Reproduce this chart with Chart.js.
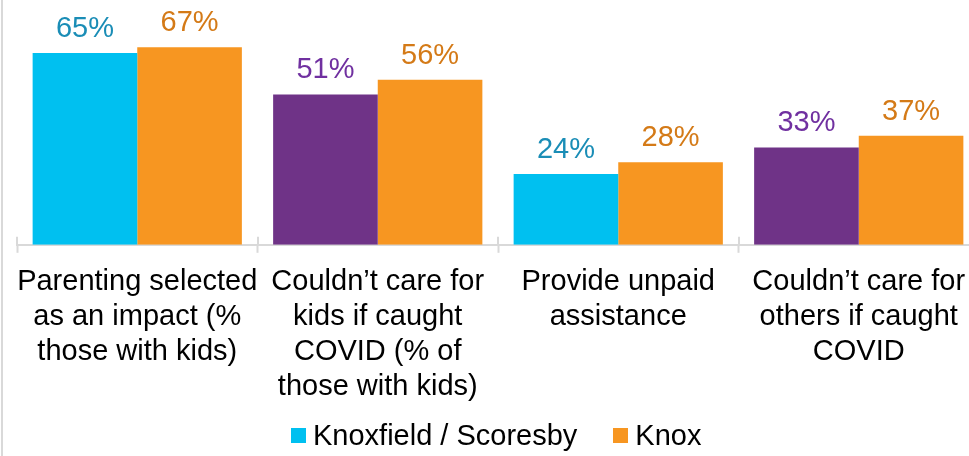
<!DOCTYPE html>
<html>
<head>
<meta charset="utf-8">
<script src="https://cdn.jsdelivr.net/npm/chart.js@4.4.1/dist/chart.umd.min.js"></script>
<style>
    html, body { margin: 0; padding: 0; background: #fff; overflow: hidden; width: 969px; height: 456px; }
    #wrap {
        position: absolute;
        left: 1px; top: 0;
        width: 976px; height: 456px;
        border-left: 2px solid #d9d9d9;
    }
    #legend {
        position: absolute;
        left: 291px; top: 419px;
        display: flex; align-items: center;
        font: 29px Arial, "Liberation Sans", sans-serif;
        color: #000;
        white-space: nowrap;
    }
    #legend .item { display: flex; align-items: center; margin-right: 36px; }
    #legend .box { width: 15px; height: 15px; margin-right: 7px; }
</style>
</head>
<body>
<div id="wrap"><canvas id="chart"></canvas></div>
<div id="legend"></div>
<script>
// chart data
const categories = [
    ["Parenting selected", "as an impact (%", "those with kids)"],
    ["Couldn\u2019t care for", "kids if caught", "COVID (% of", "those with kids)"],
    ["Provide unpaid", "assistance"],
    ["Couldn\u2019t care for", "others if caught", "COVID"],
];
const seriesNames = ["Knoxfield / Scoresby", "Knox"];
const areaValues = [65, 51, 24, 33];
const knoxValues = [67, 56, 28, 37];

const CYAN = '#00c0f0';
const PURPLE = '#6f3387';
const ORANGE = '#f79621';
const areaColors = [CYAN, PURPLE, CYAN, PURPLE];
const areaLabelColors = ['#1a8db6', '#7030a0', '#1a8db6', '#7030a0'];
const knoxLabelColor = '#d47a17';
const legendColors = [CYAN, ORANGE];
const FONT = 'Arial, "Liberation Sans", sans-serif';

// value labels above each bar
const valueLabels = {
    id: 'valueLabels',
    afterDatasetsDraw(chart) {
        const ctx = chart.ctx;
        ctx.save();
        ctx.font = '29px ' + FONT;
        ctx.textAlign = 'center';
        ctx.textBaseline = 'alphabetic';
        chart.data.datasets.forEach((ds, di) => {
            chart.getDatasetMeta(di).data.forEach((bar, i) => {
                ctx.fillStyle = di === 0 ? areaLabelColors[i] : knoxLabelColor;
                ctx.fillText(ds.data[i] + '%', bar.x, bar.y - 16);
            });
        });
        ctx.restore();
    }
};

// small tick marks poking above the axis line too
const upperTicks = {
    id: 'upperTicks',
    afterDraw(chart) {
        const x = chart.scales.x;
        const ctx = chart.ctx;
        ctx.save();
        ctx.strokeStyle = '#d9d9d9';
        ctx.lineWidth = 2;
        ctx.beginPath();
        for (let i = 0; i <= categories.length; i++) {
            const px = Math.round(x.getPixelForValue(i - 0.5));
            ctx.moveTo(px, x.top - 8);
            ctx.lineTo(px, x.top);
        }
        ctx.stroke();
        ctx.restore();
    }
};

new Chart(document.getElementById('chart'), {
    type: 'bar',
    data: {
        labels: categories,
        datasets: [
            {
                label: seriesNames[0],
                data: areaValues,
                backgroundColor: areaColors,
                categoryPercentage: 0.87,
                barPercentage: 1.0,
            },
            {
                label: seriesNames[1],
                data: knoxValues,
                backgroundColor: ORANGE,
                categoryPercentage: 0.87,
                barPercentage: 1.0,
            }
        ]
    },
    options: {
        responsive: true,
        maintainAspectRatio: false,
        animation: false,
        layout: {
            padding: { left: 14, right: 0, top: 0, bottom: 40 }
        },
        scales: {
            x: {
                grid: {
                    display: true,
                    drawOnChartArea: false,
                    offset: true,
                    tickLength: 8,
                    tickWidth: 2,
                    tickColor: '#d9d9d9',
                },
                border: { display: true, color: '#d9d9d9', width: 2 },
                ticks: {
                    color: '#000',
                    font: { family: FONT, size: 29, lineHeight: 1.2 },
                    maxRotation: 0,
                    minRotation: 0,
                    autoSkip: false,
                    padding: 12,
                }
            },
            y: {
                display: false,
                min: 0,
                max: 83,
            }
        },
        plugins: {
            tooltip: { enabled: false },
            legend: { display: false }
        }
    },
    plugins: [valueLabels, upperTicks]
});

// html legend
const legendEl = document.getElementById('legend');
seriesNames.forEach((name, i) => {
    const item = document.createElement('span');
    item.className = 'item';
    const box = document.createElement('span');
    box.className = 'box';
    box.style.background = legendColors[i];
    item.appendChild(box);
    item.appendChild(document.createTextNode(name));
    legendEl.appendChild(item);
});
</script>
</body>
</html>
